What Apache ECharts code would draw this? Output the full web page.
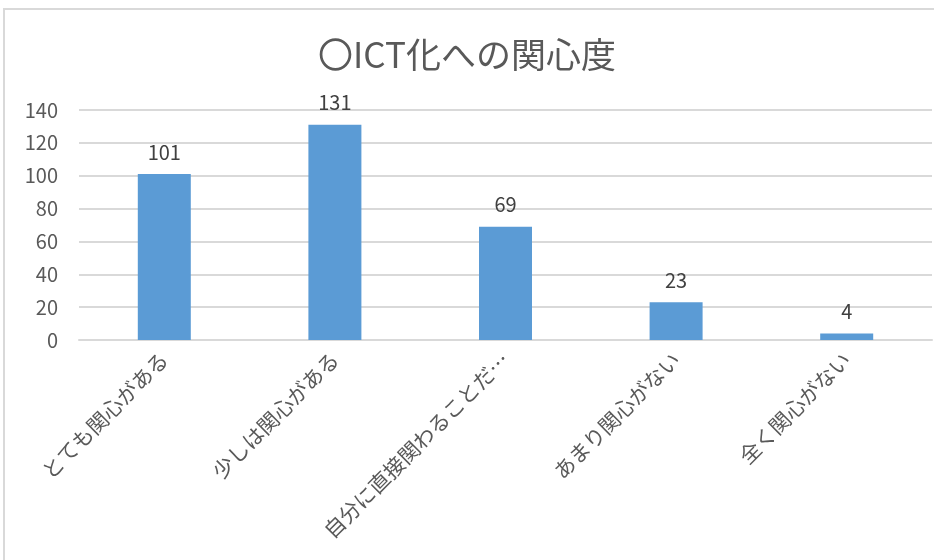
<!DOCTYPE html>
<html>
<head>
<meta charset="utf-8">
<script src="https://cdn.jsdelivr.net/npm/echarts@6/dist/echarts.min.js"></script>
<style>
  html, body { margin: 0; padding: 0; background: #fff; }
  #frame { position: absolute; left: 3px; top: 8px; width: 940px; height: 560px; border: 2px solid #d9d9d9; box-sizing: border-box; }
  #chart { position: absolute; left: 0; top: 0; width: 934px; height: 560px; }
</style>
</head>
<body>
<div id="frame"></div>
<div id="chart"></div>
<script>
// カテゴリと値
const categories = ['とても関心がある', '少しは関心がある', '自分に直接関わることだ…', 'あまり関心がない', '全く関心がない']
const counts = [101, 131, 69, 23, 4]
const yTicks = [0, 20, 40, 60, 80, 100, 120, 140]

const font = 'Noto Sans CJK JP'
const chart = echarts.init(document.getElementById('chart'))

chart.setOption({
  animation: false,
  title: {
    text: '〇ICT化への関心度',
    left: 'center',
    top: 32,
    textStyle: { fontFamily: font, fontSize: 35, fontWeight: 'normal', color: '#595959' }
  },
  grid: { left: 79, right: 2, top: 110, bottom: 220, containLabel: false },
  xAxis: {
    type: 'category',
    data: categories,
    axisLine: { lineStyle: { color: '#d9d9d9', width: 2 } },
    axisTick: { show: false },
    axisLabel: { rotate: 45, margin: 16, interval: 0, fontFamily: font, fontSize: 21, color: '#595959' }
  },
  yAxis: {
    type: 'value',
    min: yTicks[0],
    max: yTicks[yTicks.length - 1],
    interval: 20,
    axisLine: { show: false },
    axisTick: { show: false },
    splitLine: { lineStyle: { color: '#d9d9d9', width: 2 } },
    axisLabel: { margin: 21, fontFamily: font, fontSize: 20, color: '#595959' }
  },
  series: [
    {
      type: 'bar',
      data: counts,
      barWidth: 53,
      itemStyle: { color: '#5b9bd5' },
      label: {
        show: true,
        position: 'top',
        distance: 12,
        fontFamily: font,
        fontSize: 20,
        color: '#404040'
      }
    }
  ]
})
</script>
</body>
</html>
